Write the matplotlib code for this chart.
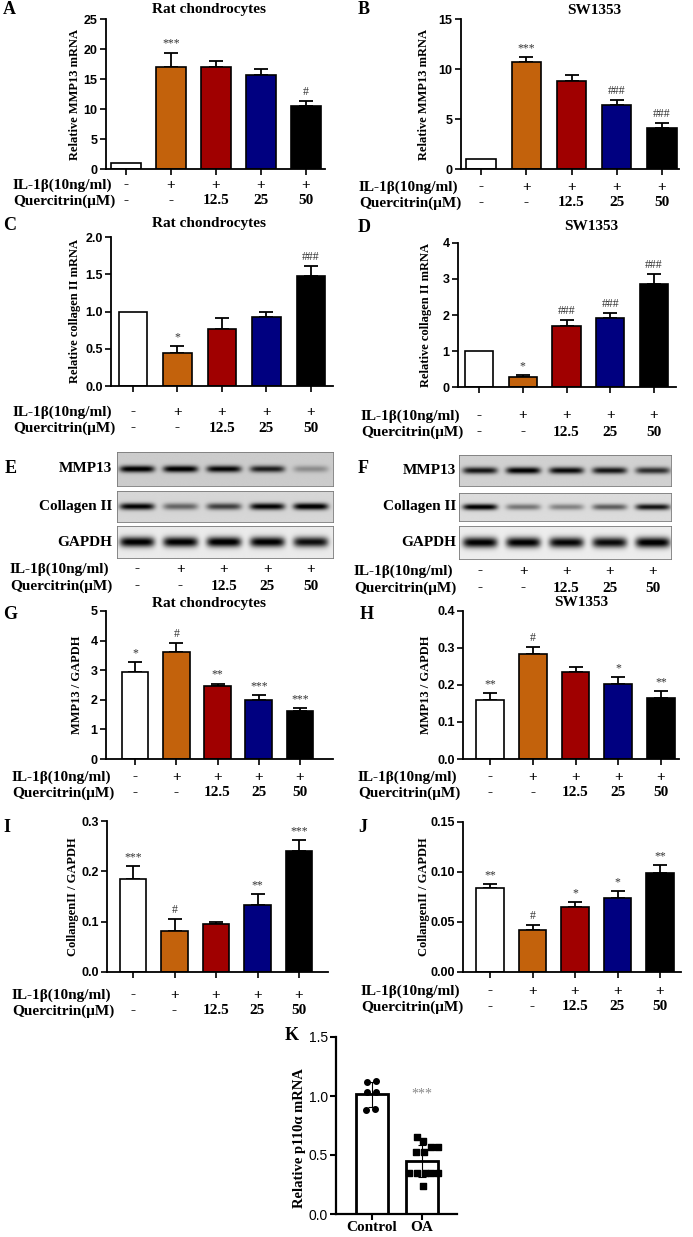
import numpy as np
import matplotlib.pyplot as plt

W, H = 693, 1237
SERIF = 'Liberation Serif'
SANS = 'Liberation Sans'

# group labels shared by every panel
il1b = ['-', '+', '+', '+', '+']
quercitrin = ['-', '-', '12.5', '25', '50']
bar_colors = ['white', '#c3620c', '#a00000', '#000080', 'black']

# A: rat chondrocytes, MMP13 mRNA
a_mean = [1.0, 17.0, 17.0, 15.7, 10.5]
a_err = [0.0, 2.4, 1.0, 0.9, 0.9]
a_sig = ['', '***', '', '', '#']
# B: SW1353, MMP13 mRNA
b_mean = [1.0, 10.7, 8.8, 6.4, 4.1]
b_err = [0.0, 0.5, 0.6, 0.55, 0.55]
b_sig = ['', '***', '', '###', '###']
# C: rat chondrocytes, collagen II mRNA
c_mean = [1.0, 0.44, 0.76, 0.92, 1.47]
c_err = [0.0, 0.10, 0.15, 0.08, 0.14]
c_sig = ['', '*', '', '', '###']
# D: SW1353, collagen II mRNA
d_mean = [1.0, 0.29, 1.70, 1.91, 2.86]
d_err = [0.0, 0.05, 0.17, 0.14, 0.29]
d_sig = ['', '*', '###', '###', '###']
# G: rat chondrocytes, MMP13 / GAPDH
g_mean = [2.95, 3.63, 2.48, 2.00, 1.62]
g_err = [0.32, 0.30, 0.07, 0.15, 0.10]
g_sig = ['*', '#', '**', '***', '***']
# H: SW1353, MMP13 / GAPDH
h_mean = [0.160, 0.283, 0.236, 0.202, 0.164]
h_err = [0.018, 0.020, 0.012, 0.019, 0.019]
h_sig = ['**', '#', '', '*', '**']
# I: rat chondrocytes, collagen II / GAPDH
i_mean = [0.185, 0.082, 0.095, 0.134, 0.241]
i_err = [0.026, 0.024, 0.005, 0.021, 0.022]
i_sig = ['***', '#', '', '**', '***']
# J: SW1353, collagen II / GAPDH
j_mean = [0.084, 0.042, 0.065, 0.074, 0.099]
j_err = [0.004, 0.005, 0.005, 0.0066, 0.0083]
j_sig = ['**', '#', '*', '*', '**']

# western blot band darkness per lane (0 = none, 1 = black)
e_mmp13 = [0.85, 0.85, 0.80, 0.70, 0.25]
e_col2 = [0.85, 0.45, 0.60, 0.85, 0.90]
e_gapdh = [0.95, 0.95, 0.97, 0.95, 0.88]
f_mmp13 = [0.75, 0.85, 0.80, 0.75, 0.65]
f_col2 = [0.90, 0.40, 0.35, 0.50, 0.80]
f_gapdh = [0.95, 0.95, 0.92, 0.90, 0.97]

# K: p110a mRNA, individual samples
k_groups = ['Control', 'OA']
k_control = [1.12, 1.13, 1.03, 1.03, 0.88, 0.89]
k_oa = [0.654, 0.617, 0.564, 0.564, 0.527, 0.527,
        0.344, 0.344, 0.344, 0.344, 0.344, 0.237]
k_control_dx = [-0.10, 0.08, -0.10, 0.08, -0.12, 0.06]
k_oa_dx = [-0.11, 0.02, 0.17, 0.31, -0.13, 0.03,
           -0.27, -0.11, 0.05, 0.18, 0.31, 0.01]

fig = plt.figure(figsize=(W / 100, H / 100), dpi=100)


def px_axes(x0, y0, x1, y1):
    return fig.add_axes([x0 / W, 1 - y1 / H, (x1 - x0) / W, (y1 - y0) / H])


def ftext(x, y, s, **kw):
    fig.text(x / W, 1 - y / H, s, **kw)


def xlim_from(x0, x1, c0, c4, n=5):
    sp = (c4 - c0) / (n - 1)
    return -(c0 - x0) / sp, (n - 1) + (x1 - c4) / sp


def group_rows(ax, box, rows_y, label_x):
    top, bottom = box[1], box[3]
    for row, vals, ypx in zip(['IL-1\u03b2(10ng/ml)', 'Quercitrin(\u03bcM)'],
                              [il1b, quercitrin], rows_y):
        ftext(label_x, ypx, row, ha='left', va='center', family=SERIF,
              fontweight='bold', fontsize=11)
        ya = (bottom - ypx) / (bottom - top)
        for i, v in enumerate(vals):
            ax.text(i, ya, v, transform=ax.get_xaxis_transform(), ha='center',
                    va='center', family=SERIF, fontweight='bold', fontsize=11)


def bar_panel(box, c0, c4, means, errs, sigs, yticks, fmt, ylabel, ylab_x,
              rows_y, label_x, letter, letter_xy, title=None, title_xy=None):
    ax = px_axes(*box)
    x = np.arange(5)
    ax.bar(x, means, width=0.65, color=bar_colors, edgecolor='black',
           linewidth=1.2, zorder=2)
    errs = np.array(errs)
    keep = errs > 0
    ax.errorbar(x[keep], np.array(means)[keep],
                yerr=[np.zeros(keep.sum()), errs[keep]], fmt='none',
                ecolor='black', elinewidth=1.3, capsize=5, capthick=1.3,
                zorder=1)
    for i, s in enumerate(sigs):
        if s:
            ax.annotate(s, (i, means[i] + errs[i]), xytext=(0, 2),
                        textcoords='offset points', ha='center', va='bottom',
                        family=SERIF, fontsize=8.5, color='#333333')
    ax.set_xlim(*xlim_from(box[0], box[2], c0, c4))
    ax.set_ylim(yticks[0], yticks[-1])
    ax.set_yticks(yticks)
    ax.set_yticklabels([fmt.format(t) for t in yticks], family=SANS,
                       fontweight='bold', fontsize=9)
    ax.set_xticks(x)
    ax.tick_params(axis='x', labelbottom=False, length=4, width=1.2)
    ax.tick_params(axis='y', length=4, width=1.2, pad=2)
    for side in ['top', 'right']:
        ax.spines[side].set_visible(False)
    for side in ['left', 'bottom']:
        ax.spines[side].set_linewidth(1.3)
    ftext(ylab_x, (box[1] + box[3]) / 2, ylabel, rotation=90, ha='center',
          va='center', family=SERIF, fontweight='bold', fontsize=9)
    group_rows(ax, box, rows_y, label_x)
    ftext(letter_xy[0], letter_xy[1], letter, ha='left', va='center',
          family=SERIF, fontweight='bold', fontsize=13)
    if title:
        ftext(title_xy[0], title_xy[1], title, ha='center', va='center',
              family=SERIF, fontweight='bold', fontsize=11)
    return ax


bar_panel((106, 19, 325, 169), 126, 306, a_mean, a_err, a_sig,
          [0, 5, 10, 15, 20, 25], '{:g}', 'Relative MMP13 mRNA', 75,
          (185, 201), 13, 'A', (3, 9), 'Rat chondrocytes', (209, 10))
bar_panel((461, 19, 679, 169), 481, 662, b_mean, b_err, b_sig,
          [0, 5, 10, 15], '{:g}', 'Relative MMP13 mRNA', 424,
          (187, 203), 359, 'B', (358, 9), 'SW1353', (594, 11))
bar_panel((111, 237, 333, 386), 133, 311, c_mean, c_err, c_sig,
          [0, 0.5, 1.0, 1.5, 2.0], '{:.1f}', 'Relative collagen II mRNA', 75,
          (412, 428), 13, 'C', (3, 225), 'Rat chondrocytes', (209, 224))
bar_panel((458, 243, 676, 387), 479, 654, d_mean, d_err, d_sig,
          [0, 1, 2, 3, 4], '{:g}', 'Relative collagen II mRNA', 426,
          (416, 432), 361, 'D', (358, 227), 'SW1353', (591, 226))
bar_panel((106, 611, 333, 759), 135, 300, g_mean, g_err, g_sig,
          [0, 1, 2, 3, 4, 5], '{:g}', 'MMP13 / GAPDH', 77,
          (777, 793), 12, 'G', (3, 615), 'Rat chondrocytes', (209, 603))
bar_panel((463, 611, 679, 759), 490, 661, h_mean, h_err, h_sig,
          [0, 0.1, 0.2, 0.3, 0.4], '{:.1f}', 'MMP13 / GAPDH', 426,
          (777, 793), 358, 'H', (360, 615), 'SW1353', (581, 603))
bar_panel((107, 821, 328, 972), 133, 299, i_mean, i_err, i_sig,
          [0, 0.1, 0.2, 0.3], '{:.1f}', 'CollangenII / GAPDH', 73,
          (995, 1011), 12, 'I', (3, 828))
bar_panel((463, 822, 681, 972), 490, 660, j_mean, j_err, j_sig,
          [0, 0.05, 0.10, 0.15], '{:.2f}', 'CollangenII / GAPDH', 424,
          (991, 1007), 361, 'J', (358, 828))


# western blots
def blot(box, c0, c4, dark, bg, half_h):
    ax = px_axes(*box)
    xl, xr = xlim_from(box[0], box[2], c0, c4)
    xs = np.linspace(xl, xr, 500)
    ys = np.linspace(-1, 1, 80)
    img = np.full((80, 500), bg)
    for i, d in enumerate(dark):
        px = np.exp(-((xs - i) / 0.40) ** 6)
        py = np.exp(-(ys / half_h) ** 2)
        img -= d * np.outer(py, px)
    ax.imshow(np.clip(img, 0, 1), cmap='gray', vmin=0, vmax=1,
              extent=[xl, xr, -1, 1], aspect='auto', interpolation='bilinear')
    ax.set_xticks([])
    ax.set_yticks([])
    for sp in ax.spines.values():
        sp.set_linewidth(0.6)
        sp.set_color('#777777')
    return ax


def blot_panel(x0, x1, c0, c4, rows, label_right, letter, letter_xy, rows_y,
               label_x):
    names = ['MMP13', 'Collagen II', 'GAPDH']
    ax = None
    for name, (y0, y1, dark, bg, hh) in zip(names, rows):
        ax = blot((x0, y0, x1, y1), c0, c4, dark, bg, hh)
        ftext(label_right, (y0 + y1) / 2, name, ha='right', va='center',
              family=SERIF, fontweight='bold', fontsize=11)
    # text rows below the last strip
    last = rows[-1]
    box = (x0, last[0], x1, last[1])
    for row, vals, ypx in zip(['IL-1\u03b2(10ng/ml)', 'Quercitrin(\u03bcM)'],
                              [il1b, quercitrin], rows_y):
        ftext(label_x, ypx, row, ha='left', va='center', family=SERIF,
              fontweight='bold', fontsize=11)
        ya = (box[3] - ypx) / (box[3] - box[1])
        for i, v in enumerate(vals):
            ax.text(i, ya, v, transform=ax.get_xaxis_transform(), ha='center',
                    va='center', family=SERIF, fontweight='bold', fontsize=11)
    ftext(letter_xy[0], letter_xy[1], letter, ha='left', va='center',
          family=SERIF, fontweight='bold', fontsize=13)


blot_panel(117, 333, 137, 311,
           [(452, 486, e_mmp13, 0.80, 0.20),
            (491, 522, e_col2, 0.84, 0.22),
            (526, 558, e_gapdh, 0.92, 0.32)],
           112, 'E', (5, 469), (569, 586), 10)
blot_panel(459, 671, 480, 653,
           [(455, 486, f_mmp13, 0.82, 0.22),
            (493, 521, f_col2, 0.86, 0.22),
            (526, 559, f_gapdh, 0.93, 0.32)],
           456, 'F', (358, 469), (571, 588), 354)

# K: p110a
ax = px_axes(336, 1037, 457, 1214)
k_vals = [np.array(k_control), np.array(k_oa)]
k_means = [v.mean() for v in k_vals]
k_sds = [v.std(ddof=1) for v in k_vals]
ax.bar([0, 1], k_means, width=0.64, color='white', edgecolor='black',
       linewidth=2, zorder=1)
ax.errorbar([0, 1], k_means, yerr=k_sds, fmt='none', ecolor='black',
            elinewidth=0.8, capsize=3, capthick=0.8, zorder=3)
ax.scatter(np.array(k_control_dx), k_vals[0], s=16, marker='o',
           color='black', zorder=4)
ax.scatter(1 + np.array(k_oa_dx), k_vals[1], s=16, marker='s',
           color='black', zorder=4)
ax.text(1, k_means[0], '***', ha='center', va='center', family=SERIF,
        fontsize=10, color='#888888')
ax.set_xlim(-0.72, 1.7)
ax.set_ylim(0, 1.5)
ax.set_yticks([0, 0.5, 1.0, 1.5])
ax.set_yticklabels(['0.0', '0.5', '1.0', '1.5'], family=SANS, fontsize=10)
ax.set_xticks([0, 1])
ax.set_xticklabels(k_groups, family=SERIF, fontweight='bold', fontsize=11)
ax.tick_params(axis='x', length=4, width=1.5, pad=1)
ax.tick_params(axis='y', length=4, width=1.5, pad=2)
for side in ['top', 'right']:
    ax.spines[side].set_visible(False)
for side in ['left', 'bottom']:
    ax.spines[side].set_linewidth(1.6)
ftext(300, 1138, 'Relative p110\u03b1 mRNA', rotation=90, ha='center',
      va='center', family=SERIF, fontweight='bold', fontsize=10.5)
ftext(285, 1036, 'K', ha='left', va='center', family=SERIF,
      fontweight='bold', fontsize=13)

fig.savefig('out.png', dpi=100)
